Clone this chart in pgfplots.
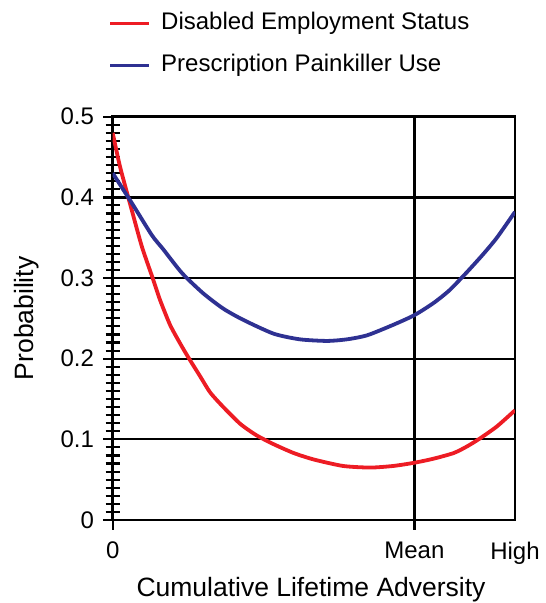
\documentclass[border=0pt]{standalone}
\usepackage{fontspec}
\setmainfont{Liberation Sans}
\usepackage{pgfplots}
\pgfplotsset{compat=1.18}
\definecolor{myred}{RGB}{237,28,36}
\definecolor{myblue}{RGB}{46,49,146}
\begin{document}
\fontsize{24}{28}\selectfont
\begin{tikzpicture}
\path[use as bounding box] (-112.7pt,-83pt) rectangle (433.3pt,520pt);
\begin{axis}[
 scale only axis, width=402.3pt, height=403.3pt,
 at={(0,0)}, anchor=south west,
 xmin=0, xmax=4, ymin=0, ymax=0.5,
 xtick={0,3}, xticklabels={0,Mean},
 extra x ticks={4}, extra x tick labels={High},
 extra x tick style={grid=none, major tick style={draw=none}},
 ytick={0,0.1,0.2,0.3,0.4,0.5},
 minor y tick num=9,
 tick align=center, major tick length=19pt, minor tick length=14pt,
 xtick pos=bottom, ytick pos=left,
 major tick style={black, line width=2.3pt},
 minor tick style={black, line width=2.1pt},
 ymajorgrids, xmajorgrids,
 major grid style={black, line width=2.3pt},
 axis line style={black, line width=2.6pt},
 /pgf/number format/assume math mode=true,
 tick label style={font=\fontsize{24}{28}\selectfont},
 yticklabel style={anchor=east, inner sep=0pt, xshift=-9pt},
 xticklabel style={anchor=north, inner sep=0pt, yshift=-12pt},
 xlabel={Cumulative Lifetime Adversity},
 ylabel={Probability},
 xlabel style={font=\fontsize{26.5}{30}\selectfont, at={(axis description cs:0.493,-0.1909)}, anchor=base, inner sep=0pt},
 ylabel style={font=\fontsize{26.5}{30}\selectfont, at={(axis description cs:-0.214,0.5)}, anchor=center, inner sep=0pt},
 legend style={draw=none, fill=none, at={(0,1)}, anchor=south west,
   xshift=-4.5pt, yshift=40pt, inner sep=0pt, row sep=20pt,
   font=\fontsize{24}{28}\selectfont,
   nodes={inner sep=0pt, text height=17pt, text depth=5pt, anchor=west},
   /tikz/every odd column/.append style={column sep=10pt}},
 legend cell align=left,
 legend image code/.code={\draw[#1, line width=3.8pt] (0pt,0pt) -- (39pt,0pt);},
]
\addplot[myred, line width=3.8pt, smooth, tension=0.4] coordinates {
(0,0.480) (0.073,0.438) (0.19,0.384) (0.29,0.339) (0.40,0.299) (0.47,0.273)
(0.57,0.242) (0.67,0.219) (0.75,0.202) (0.87,0.178) (0.97,0.158) (1.10,0.140)
(1.27,0.119) (1.43,0.105) (1.60,0.094) (1.80,0.083) (2.00,0.075) (2.29,0.067)
(2.56,0.065) (2.79,0.067) (3.00,0.071) (3.19,0.076) (3.39,0.083) (3.52,0.091)
(3.65,0.101) (3.82,0.116) (4.00,0.136)
};
\addlegendentry{Disabled Employment Status}
\addplot[myblue, line width=3.8pt, smooth, tension=0.4] coordinates {
(0,0.430) (0.19,0.393) (0.39,0.353) (0.50,0.336) (0.69,0.306) (0.90,0.281)
(1.10,0.262) (1.30,0.248) (1.60,0.231) (1.86,0.224) (2.13,0.222) (2.33,0.224)
(2.53,0.229) (2.79,0.242) (3.00,0.254) (3.19,0.269) (3.35,0.285) (3.52,0.307)
(3.68,0.329) (3.82,0.350) (4.00,0.382)
};
\addlegendentry{Prescription Painkiller Use}
\end{axis}
\end{tikzpicture}
\end{document}
